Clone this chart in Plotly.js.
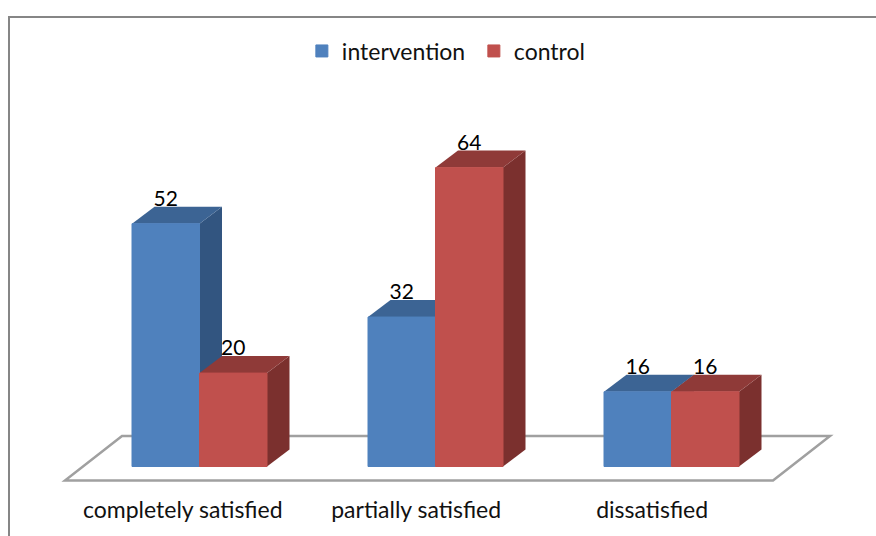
<!DOCTYPE html>
<html>
<head>
<meta charset="utf-8">
<script src="https://cdn.plot.ly/plotly-3.0.1.min.js"></script>
<style>html,body{margin:0;padding:0;background:#fff;overflow:hidden}#chart{width:876px;height:536px}</style>
</head>
<body>
<div id="chart"></div>
<script>
const categories = ["completely satisfied", "partially satisfied", "dissatisfied"];
const intervention = [52, 32, 16];
const control = [20, 64, 16];
const seriesNames = ["intervention", "control"];
const tickOffsets = [-0.071, -0.082, -0.082];

const W = 876, H = 536, plotH = 494;
const zeroX = 199.5, zeroY = 466.5, pxPerCat = 236, pxPerVal = 4.67;
const xr = [-zeroX / pxPerCat, (W - zeroX) / pxPerCat];
const yr = [-(plotH - zeroY) / pxPerVal, zeroY / pxPerVal];
const barW = 67.5 / pxPerCat, dx = 22.5 / pxPerCat, dy = 17 / pxPerVal;
const idx = categories.map((_, i) => i);
const font = "Lato, Carlito, sans-serif";

function faces(vals, offset, topColor, sideColor) {
  const out = [];
  vals.forEach((v, i) => {
    const l = i + offset * barW, r = l + barW;
    out.push({type:"scatter", mode:"lines", fill:"toself", fillcolor:sideColor,
      line:{width:0, color:sideColor}, showlegend:false, hoverinfo:"skip",
      x:[r, r+dx, r+dx, r, r], y:[0, dy, v+dy, v, 0]});
    out.push({type:"scatter", mode:"lines", fill:"toself", fillcolor:topColor,
      line:{width:0, color:topColor}, showlegend:false, hoverinfo:"skip",
      x:[l, l+dx, r+dx, r, l], y:[v, v+dy, v+dy, v, v]});
  });
  return out;
}

function bar(name, vals, color) {
  return {type:"bar", name, x:idx, y:vals, xaxis:"x2", yaxis:"y2",
    marker:{color, line:{color, width:1}}, hoverinfo:"y"};
}

function labels(vals, offset) {
  return {type:"scatter", mode:"text", x:idx.map(i => i + offset * barW),
    y:vals.map(v => v + 23 / pxPerVal), text:vals.map(String), textposition:"middle center",
    textfont:{family:font, size:21, color:"#000"}, xaxis:"x2", yaxis:"y2",
    showlegend:false, hoverinfo:"skip", cliponaxis:false};
}

const data = [
  ...faces(intervention, -1, "#3c6494", "#325580"),
  ...faces(control, 0, "#8f3a38", "#7b302e"),
  bar(seriesNames[0], intervention, "#4f81bd"),
  bar(seriesNames[1], control, "#c0504d"),
  labels(intervention, -0.5),
  labels(control, 0.5)
];

const floorY0 = -(480.5 - zeroY) / pxPerVal, floorY1 = (zeroY - 436) / pxPerVal;
const fx = p => (p - zeroX) / pxPerCat;
const floorPath = "M" + fx(65) + "," + floorY0 + " L" + fx(773) + "," + floorY0 +
  " L" + fx(830) + "," + floorY1 + " L" + fx(122) + "," + floorY1 + " Z";

const layout = {
  width:W, height:H, margin:{l:0, r:0, t:0, b:H - plotH, pad:0},
  paper_bgcolor:"#fff", plot_bgcolor:"rgba(0,0,0,0)",
  font:{family:font, size:23, color:"#111"},
  barmode:"group", bargap:1 - 2 * barW, bargroupgap:0,
  showlegend:true,
  legend:{orientation:"h", x:0.3446, xanchor:"left", y:1 - 51 / plotH, yanchor:"middle",
    entrywidth:127, entrywidthmode:"pixels",
    font:{family:font, size:23, color:"#111"}, bgcolor:"rgba(0,0,0,0)", traceorder:"normal"},
  xaxis:{range:xr, type:"linear", showgrid:false, zeroline:false, showline:false, ticks:"",
    tickmode:"array", tickvals:idx.map(i => i + tickOffsets[i]), ticktext:categories,
    tickfont:{family:font, size:23, color:"#111"}, fixedrange:true},
  yaxis:{range:yr, showgrid:false, zeroline:false, showline:false, showticklabels:false, ticks:"", fixedrange:true},
  xaxis2:{range:xr, type:"linear", overlaying:"x", visible:false, fixedrange:true},
  yaxis2:{range:yr, overlaying:"y", visible:false, fixedrange:true},
  shapes:[
    {type:"path", path:floorPath, xref:"x", yref:"y", layer:"below", line:{color:"#a0a0a0", width:2.5}, fillcolor:"#fff"},
    {type:"rect", xref:"paper", yref:"paper", x0:9/W, x1:1.05, y0:-0.2, y1:1 - 17/plotH, layer:"below",
     line:{color:"#868686", width:2}}
  ]
};

Plotly.newPlot("chart", data, layout, {displayModeBar:false, responsive:false});
</script>
</body>
</html>
